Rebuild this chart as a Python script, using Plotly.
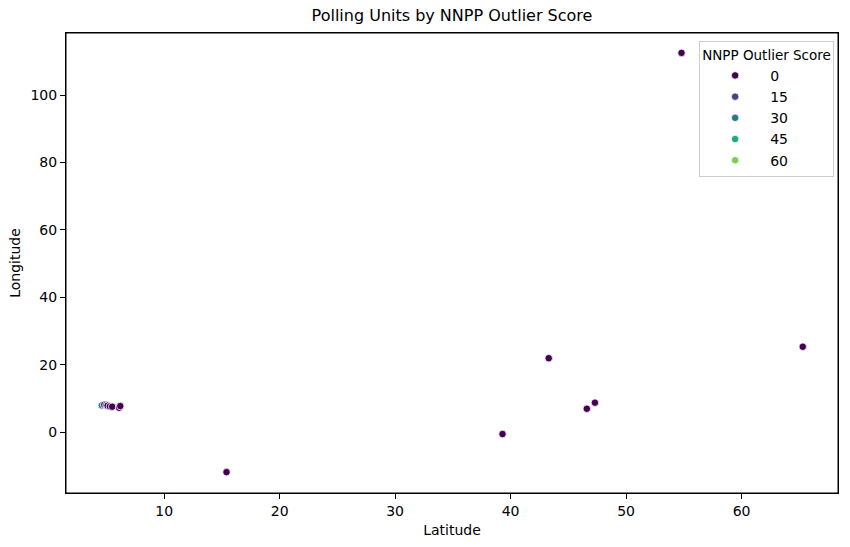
import plotly.graph_objects as go

latitude = [54.8, 65.3, 43.3, 47.3, 46.6, 39.3, 15.4,
            4.6, 4.8, 5.0, 5.1, 5.3, 5.5, 6.1, 6.2]
longitude = [112.5, 25.3, 21.9, 8.7, 6.9, -0.6, -11.9,
             7.9, 8.1, 8.0, 7.8, 7.6, 7.5, 7.2, 7.7]
outlier_score = [0, 0, 0, 0, 0, 0, 0,
                 30, 12, 0, 0, 0, 0, 0, 0]

legend_values = [0, 15, 30, 45, 60]
legend_colors = ["#440154", "#414487", "#2a788e", "#22a884", "#7ad151"]

viridis = [[0.0, "#440154"], [0.1, "#482475"], [0.2, "#414487"], [0.3, "#355f8d"],
           [0.4, "#2a788e"], [0.5, "#21918c"], [0.6, "#22a884"], [0.7, "#44bf70"],
           [0.8, "#7ad151"], [0.9, "#bddf26"], [1.0, "#fde725"]]

fig = go.Figure()
fig.add_trace(go.Scatter(
    x=latitude, y=longitude, mode="markers",
    marker=dict(size=7.5, color=outlier_score, colorscale=viridis, cmin=0, cmax=75,
                line=dict(color="white", width=0.8)),
    showlegend=False, hoverinfo="x+y"))

for v, c in zip(legend_values, legend_colors):
    fig.add_trace(go.Scatter(
        x=[None], y=[None], mode="markers", name=str(v),
        marker=dict(size=7.5, color=c, line=dict(color="white", width=0.8))))

axis_common = dict(
    showline=True, linecolor="black", linewidth=1, mirror=True,
    ticks="outside", ticklen=5, tickcolor="black", showgrid=False, zeroline=False,
    tickfont=dict(size=14, color="black"), automargin=False,
)

fig.update_layout(
    width=850, height=547,
    margin=dict(l=66, r=12, t=33, b=54),
    plot_bgcolor="white", paper_bgcolor="white",
    font=dict(family="DejaVu Sans", color="black"),
    title=dict(text="Polling Units by NNPP Outlier Score", x=0.5, xanchor="center",
               xref="paper", y=1 - 10 / 547, yanchor="top", font=dict(size=16)),
    xaxis=dict(title=dict(text="Latitude", font=dict(size=14), standoff=7),
               range=[1.5, 68.35], tickvals=[10, 20, 30, 40, 50, 60], **axis_common),
    yaxis=dict(title=dict(text="Longitude", font=dict(size=14), standoff=6),
               range=[-18.1, 118.4], tickvals=[0, 20, 40, 60, 80, 100], **axis_common),
    legend=dict(title=dict(text="NNPP Outlier Score", font=dict(size=13.5), side="top"),
                x=0.995, xanchor="right", y=0.982, yanchor="top",
                bgcolor="rgba(255,255,255,0.8)", bordercolor="#cccccc", borderwidth=1,
                font=dict(size=14), itemwidth=60, tracegroupgap=0),
    shapes=[dict(type="rect", xref="paper", yref="paper", x0=0, x1=1, y0=0, y1=1,
                 line=dict(color="black", width=1), fillcolor="rgba(0,0,0,0)", layer="above")],
)

fig.write_html("out.html", config={"displayModeBar": False},
               post_script="document.body.style.margin='0';")
